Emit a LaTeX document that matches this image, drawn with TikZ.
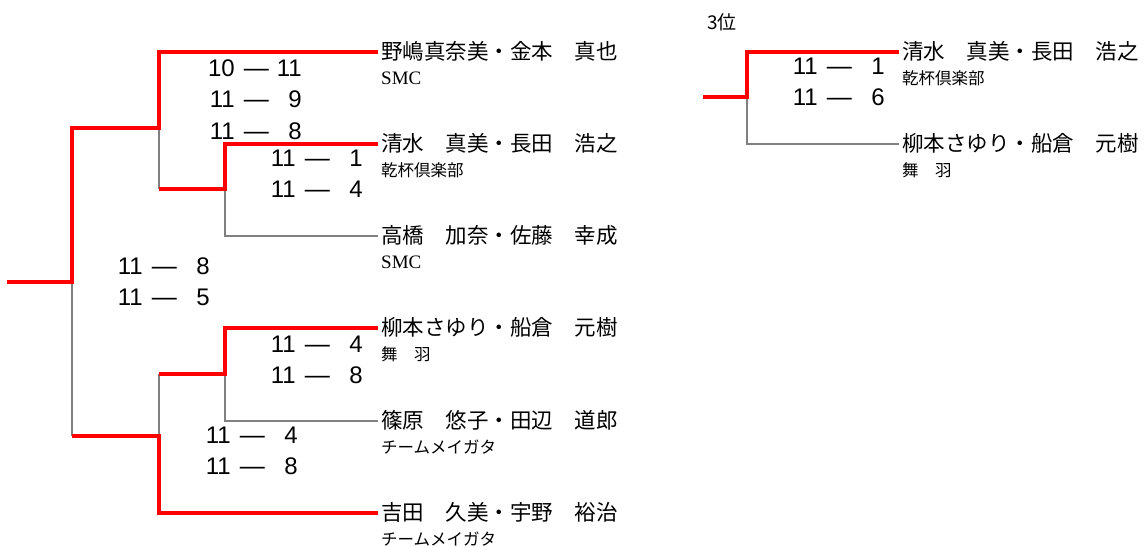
\documentclass[tikz,border=0pt]{standalone}
\usepackage{fontspec}
\setmainfont{Liberation Sans}
\newfontfamily\jpfont{Noto Sans CJK JP}
\newfontfamily\clubserif{Liberation Serif}
\usetikzlibrary{positioning}
\definecolor{winred}{RGB}{255,0,0}
\definecolor{losegray}{RGB}{128,128,128}
\newcommand{\gm}[2]{\makebox[26pt][r]{#1}\hspace{9pt}{\fontsize{25}{26}\selectfont —}\hspace{6pt}\makebox[27pt][r]{#2}}

\begin{document}
\begin{tikzpicture}[x=1pt,y=-1pt,node distance=14pt]
\tikzstyle{every node}+=[inner sep=0pt]
\tikzstyle{win}=[draw=winred,line width=4pt]
\tikzstyle{lose}=[draw=losegray,line width=1.4pt]
\tikzstyle{pair}=[anchor=west,inner xsep=3pt,font=\jpfont\fontsize{21.5}{24}\selectfont,text height=18pt,text depth=3pt]
\tikzstyle{club}=[font=\jpfont\fontsize{16.5}{18}\selectfont,text height=13pt,text depth=2pt]
\tikzstyle{game}=[font=\fontsize{24}{26}\selectfont,text height=17pt,text depth=0pt]
\useasboundingbox (0,0) rectangle (1147,546);
% main bracket
\node[pair] (p1) at (378,52) {野嶋真奈美・金本　真也};
\node[club,below right=8.5pt and 3pt of p1.south west] (c1) {\clubserif\fontsize{19}{20}\selectfont SMC};
\node[pair] (p2) at (378,144) {清水　真美・長田　浩之};
\node[club,below right=8.5pt and 3pt of p2.south west] (c2) {乾杯倶楽部};
\node[pair] (p3) at (378,236) {高橋　加奈・佐藤　幸成};
\node[club,below right=8.5pt and 3pt of p3.south west] (c3) {\clubserif\fontsize{19}{20}\selectfont SMC};
\node[pair] (p4) at (378,328) {柳本さゆり・船倉　元樹};
\node[club,below right=8.5pt and 3pt of p4.south west] (c4) {舞　羽};
\node[pair] (p5) at (378,421) {篠原　悠子・田辺　道郎};
\node[club,below right=8.5pt and 3pt of p5.south west] (c5) {チームメイガタ};
\node[pair] (p6) at (378,513) {吉田　久美・宇野　裕治};
\node[club,below right=8.5pt and 3pt of p6.south west] (c6) {チームメイガタ};
\coordinate (start) at (7,282);
\coordinate (fin) at (72,282);
\coordinate (sa) at (159,128);
\coordinate (qa) at (225,189);
\coordinate (sb) at (159,436);
\coordinate (qb) at (225,374);
\draw[lose] (sa) -- (sa |- qa);
\draw[lose] (qa) |- (p3.west);
\draw[lose] (fin) -- (fin |- sb);
\draw[lose] (sb) -- (sb |- qb);
\draw[lose] (qb) |- (p5.west);
\draw[win] (start) -- (fin) |- (sa) |- (p1.west);
\draw[win] (p2.west) -| (qa) -- (sa |- qa);
\draw[win] (p4.west) -| (qb) -- (sb |- qb);
\draw[win] (p6.west) -| (sb) -- (fin |- sb);
% scores
\node[game,anchor=east] (s1a) at (302,68) {\gm{10}{11}};
\node[game,below=of s1a] (s1b) {\gm{11}{9}};
\node[game,below=of s1b] (s1c) {\gm{11}{8}};
\node[game,anchor=east] (s2a) at (363,158) {\gm{11}{1}};
\node[game,below=of s2a] (s2b) {\gm{11}{4}};
\node[game,anchor=east] (s3a) at (210,266) {\gm{11}{8}};
\node[game,below=of s3a] (s3b) {\gm{11}{5}};
\node[game,anchor=east] (s4a) at (363,344) {\gm{11}{4}};
\node[game,below=of s4a] (s4b) {\gm{11}{8}};
\node[game,anchor=east] (s5a) at (298,435) {\gm{11}{4}};
\node[game,below=of s5a] (s5b) {\gm{11}{8}};
% 3rd place
\node[anchor=west,font=\jpfont\fontsize{19}{20}\selectfont] (rank) at (707,22) {3位};
\node[pair] (t1) at (899,52) {清水　真美・長田　浩之};
\node[club,below right=8.5pt and 3pt of t1.south west] (tc1) {乾杯倶楽部};
\node[pair] (t2) at (899,144) {柳本さゆり・船倉　元樹};
\node[club,below right=8.5pt and 3pt of t2.south west] (tc2) {舞　羽};
\coordinate (tstart) at (703,97);
\coordinate (tj) at (747,97);
\draw[lose] (tj) |- (t2.west);
\draw[win] (tstart) -- (tj) |- (t1.west);
\node[game,anchor=east] (s6a) at (885,66) {\gm{11}{1}};
\node[game,below=of s6a] (s6b) {\gm{11}{6}};
\end{tikzpicture}
\end{document}
